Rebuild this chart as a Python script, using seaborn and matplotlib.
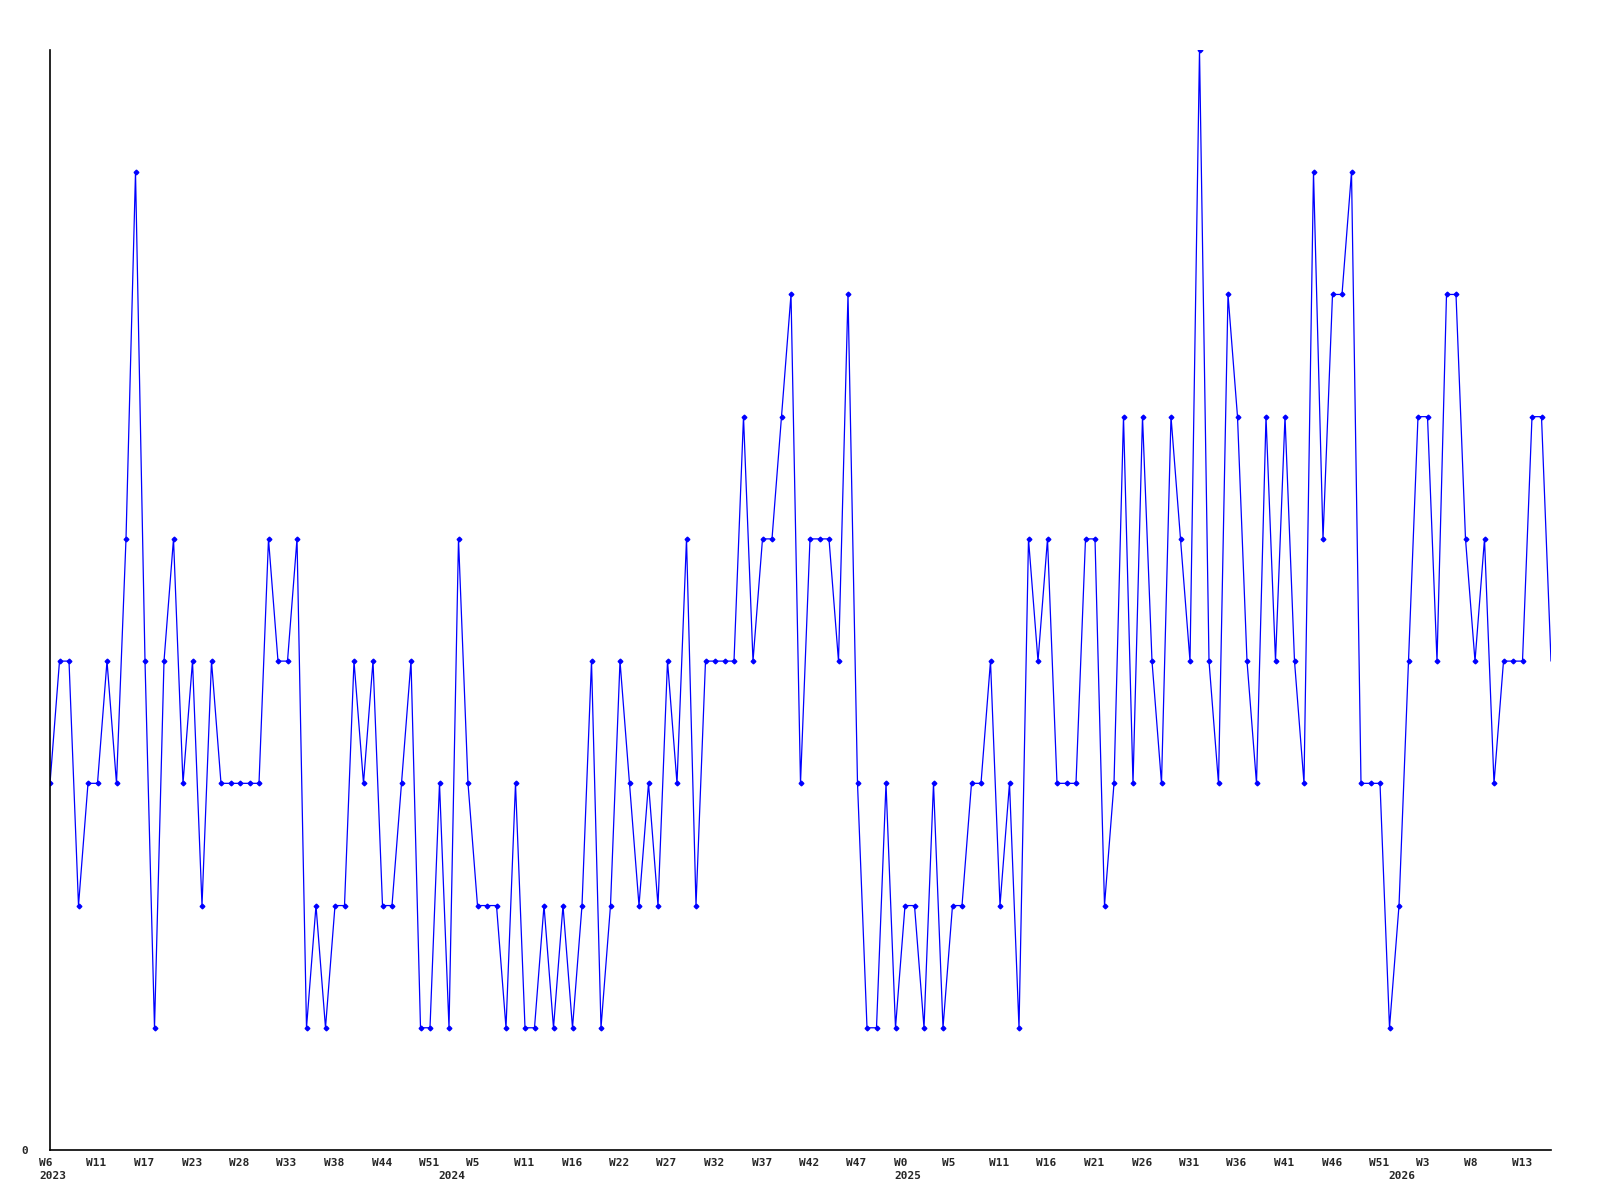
import matplotlib
matplotlib.use('Agg')
import matplotlib.pyplot as plt
import matplotlib.transforms as mtransforms
import pandas as pd
import seaborn as sns

# Weekly counts (one value per point).
values = [3, 4, 4, 2, 3, 3, 4, 3, 5, 8,
          4, 1, 4, 5, 3, 4, 2, 4, 3, 3,
          3, 3, 3, 5, 4, 4, 5, 1, 2, 1,
          2, 2, 4, 3, 4, 2, 2, 3, 4, 1,
          1, 3, 1, 5, 3, 2, 2, 2, 1, 3,
          1, 1, 2, 1, 2, 1, 2, 4, 1, 2,
          4, 3, 2, 3, 2, 4, 3, 5, 2, 4,
          4, 4, 4, 6, 4, 5, 5, 6, 7, 3,
          5, 5, 5, 4, 7, 3, 1, 1, 3, 1,
          2, 2, 1, 3, 1, 2, 2, 3, 3, 4,
          2, 3, 1, 5, 4, 5, 3, 3, 3, 5,
          5, 2, 3, 6, 3, 6, 4, 3, 6, 5,
          4, 9, 4, 3, 7, 6, 4, 3, 6, 4,
          6, 4, 3, 8, 5, 7, 7, 8, 3, 3,
          3, 1, 2, 4, 6, 6, 4, 7, 7, 5,
          4, 5, 3, 4, 4, 4, 6, 6, 4]

# Week labels shown every 5th point.
week_labels = ['W6', 'W11', 'W17', 'W23', 'W28', 'W33', 'W38', 'W44', 'W51',
               'W5', 'W11', 'W16', 'W22', 'W27', 'W32', 'W37', 'W42', 'W47',
               'W0', 'W5', 'W11', 'W16', 'W21', 'W26', 'W31', 'W36', 'W41',
               'W46', 'W51', 'W3', 'W8', 'W13']
week_step = 5

# Year labels and the point index they sit under.
years = ['2023', '2024', '2025', '2026']
year_index = [0, 42, 90, 142]

df = pd.DataFrame({'idx': range(len(values)), 'count': values})

sns.set_style('white')
plt.rcParams['font.family'] = ['DejaVu Sans Mono', 'DejaVu Sans']

fig = plt.figure(figsize=(16, 12), dpi=100)
ax = fig.add_axes([50 / 1600, 50 / 1200, 1501 / 1600, 1100 / 1200])

sns.lineplot(data=df, x='idx', y='count', ax=ax, color='#0000ff',
             linewidth=0.9)
# markers on every point except the last (partial) week
ax.plot(df['idx'][:-1], df['count'][:-1], linestyle='none', marker='D',
        markersize=2.4, color='#0000ff')

ax.set_xlim(0, len(values) - 1)
ax.set_ylim(0, 9)
ax.set_xlabel('')
ax.set_ylabel('')

sns.despine(ax=ax)
for side in ['left', 'bottom']:
    ax.spines[side].set_color('black')
    ax.spines[side].set_linewidth(1.2)

ax.set_yticks([0])
ax.set_yticklabels(['0'], fontsize=8, fontweight='bold')
ax.tick_params(axis='y', length=0, pad=16)

ax.set_xticks([i * week_step for i in range(len(week_labels))])
ax.set_xticklabels(week_labels, fontsize=8, fontweight='bold')
ax.tick_params(axis='x', length=0, pad=6)
shift = mtransforms.ScaledTranslation(-11 / 100, 0, fig.dpi_scale_trans)
for lab in ax.get_xticklabels():
    lab.set_horizontalalignment('left')
    lab.set_transform(lab.get_transform() + shift)

year_trans = mtransforms.blended_transform_factory(ax.transData, ax.transAxes) + \
    mtransforms.ScaledTranslation(-11 / 100, -21 / 100, fig.dpi_scale_trans)
for y, i in zip(years, year_index):
    ax.text(i, 0, y, transform=year_trans, ha='left', va='top',
            fontsize=8, fontweight='bold')

fig.savefig('out.png', dpi=100, facecolor='white')
